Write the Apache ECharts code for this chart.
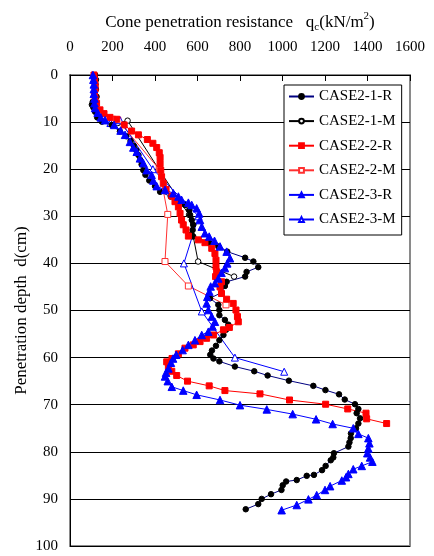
<!DOCTYPE html>
<html>
<head>
<meta charset="utf-8">
<script src="https://cdn.jsdelivr.net/npm/echarts@6/dist/echarts.min.js"></script>
<style>
  html, body { margin: 0; padding: 0; background: #fff; }
  #chart { width: 434px; height: 556px; }
</style>
</head>
<body>
<div id="chart"></div>
<script>
// [qc (kN/m2), depth (cm)]
const case21R = [
  [118, 0], [122, 1], [120, 2], [122, 3], [125, 4.6], [107, 5.7], [103, 6.3], [110, 6.9], [118, 7.8], [128, 9], [150, 9.9],
  [196, 10.6], [235, 12], [265, 13], [285, 14], [300, 15], [312, 16], [322, 17], [330, 18], [337, 19], [345, 20.2],
  [355, 21.2], [373, 22.4], [400, 23.6], [424, 24.8], [474, 25.8], [510, 26.5], [541, 27.6], [561, 28.7], [565, 29.7],
  [573, 30.8], [580, 31.8], [577, 32.9], [572, 33.8], [580, 34.3], [655, 35.6], [698, 36.4], [740, 37.5], [824, 38.8],
  [863, 39.6], [886, 40.8], [831, 41.8], [824, 42.8], [737, 43.9], [729, 44.8], [713, 46.2], [659, 47.4], [698, 48.8],
  [703, 49.9], [703, 51], [729, 52], [745, 53], [734, 54.1], [722, 55.2], [703, 56.3], [687, 57.5], [668, 58.5],
  [660, 59.4], [675, 60.2], [703, 60.8], [776, 61.9], [867, 62.9], [930, 63.8], [1030, 64.9], [1145, 66], [1202, 66.9],
  [1266, 67.8], [1293, 68.9], [1341, 69.9], [1357, 70.9], [1349, 71.8], [1365, 72.9], [1357, 74], [1346, 75],
  [1322, 76.1], [1321, 77.1], [1315, 78], [1310, 78.9], [1242, 80.3], [1239, 81.2], [1227, 81.8], [1203, 83],
  [1186, 83.9], [1148, 84.9], [1114, 85.1], [1067, 86], [1017, 86.3], [1001, 87.1], [995, 88.1], [946, 89],
  [902, 90], [886, 91.1], [827, 92.2]
];
const case21M = [[225, 10.2], [271, 9.7], [418, 20], [560, 29.7], [603, 39.6], [772, 42.8]];

const case22R = [
  [113, 0], [115, 1], [118, 2], [118, 3], [115, 4], [118, 5], [125, 6], [141, 7.4], [160, 8.2], [188, 9], [220, 9.4],
  [255, 10.6], [290, 11.9], [322, 12.7], [364, 13.7], [390, 14.5], [408, 15.4], [420, 16.5], [424, 17.5], [424, 18.8],
  [427, 20.2], [431, 21.6], [439, 23], [452, 24.3], [479, 25.7], [494, 26.9], [510, 28], [518, 29.4], [525, 30.8],
  [533, 31.8], [546, 32.9], [557, 34.2], [604, 35], [635, 35.6], [667, 36.8], [682, 37.9], [687, 39.3], [687, 40.7],
  [690, 41.8], [685, 42.8], [713, 43.9], [706, 45], [713, 46.4], [737, 47.6], [768, 48.5], [781, 49.9], [788, 51.3],
  [792, 52.4], [750, 53.6], [722, 54.1], [675, 55.2], [643, 55.9], [612, 56.6], [580, 57.3], [541, 58], [510, 59.2],
  [480, 60.2], [455, 60.9], [463, 61.9], [479, 62.9], [502, 63.8], [553, 65], [655, 66], [729, 67], [894, 67.7],
  [1033, 69], [1203, 69.9], [1307, 70.9], [1393, 71.8], [1396, 73], [1490, 74]
];
const case22M = [[200, 9.4], [225, 9.6], [420, 20], [460, 29.6], [447, 39.6], [557, 44.8], [734, 48.8]];

const case23R = [
  [108, 0], [110, 1], [112, 2], [112, 3], [112, 4], [115, 5], [115, 6], [118, 7], [130, 8], [145, 9], [165, 9.6],
  [208, 10.6], [238, 11.8], [259, 12.7], [282, 14.2], [298, 15.4], [314, 16.3], [329, 17.7], [345, 18.7], [361, 20.2],
  [384, 21.2], [392, 22.4], [408, 23.6], [447, 24.4], [486, 25.1], [510, 25.8], [525, 26.5], [557, 27.1], [573, 27.6],
  [596, 28.3], [608, 29.4], [612, 30.8], [620, 32.2], [635, 33.6], [655, 34.3], [680, 35.2], [706, 36.4], [737, 37.5],
  [753, 38.9], [740, 40], [729, 41], [713, 42], [698, 43.2], [682, 44.2], [662, 44.9], [656, 46], [646, 47.1],
  [643, 48.5], [651, 49.9], [667, 51.3], [682, 52.4], [671, 53.4], [651, 54.5], [620, 55.2], [588, 56.3], [557, 57.3],
  [530, 58.4], [500, 59.4], [485, 60.2], [475, 61.1], [463, 62.3], [452, 63.2], [447, 64], [460, 65], [479, 66.2],
  [533, 67], [596, 67.9], [706, 69], [800, 70.1], [926, 71], [1048, 72], [1158, 73.1], [1236, 74.1], [1333, 75],
  [1357, 76.2], [1404, 77.1], [1409, 78.2], [1404, 79.3], [1399, 80.3], [1412, 81.2], [1423, 82.1], [1373, 83],
  [1333, 83.7], [1310, 84.7], [1299, 85.4], [1279, 86.1], [1224, 87.3], [1200, 88.1], [1161, 89.2], [1122, 90.1],
  [1067, 91.3], [996, 92.4]
];
const case23M = [[190, 10.2], [235, 9.6], [390, 20], [605, 30], [536, 40], [620, 50.2], [776, 60], [1008, 63]];

const seriesNames = ['CASE2-1-R', 'CASE2-1-M', 'CASE2-2-R', 'CASE2-2-M', 'CASE2-3-R', 'CASE2-3-M'];
const xTicks = [0, 200, 400, 600, 800, 1000, 1200, 1400, 1600];
const yTicks = [0, 10, 20, 30, 40, 50, 60, 70, 80, 90, 100];

const serif = 'Liberation Serif, Times New Roman, serif';
const chart = echarts.init(document.getElementById('chart'));

function makeSeries(name, data, symbol, size, fill, border, line) {
  return {
    name: name,
    type: 'line',
    data: data,
    symbol: symbol,
    symbolSize: size,
    showAllSymbol: true,
    animation: false,
    itemStyle: { color: fill, borderColor: border, borderWidth: 1, opacity: 1 },
    lineStyle: { color: line, width: 1 }
  };
}

const option = {
  backgroundColor: '#fff',
  animation: false,
  textStyle: { fontFamily: serif, color: '#000' },
  grid: {
    left: 70, top: 75, width: 340, height: 471,
    outerBoundsMode: 'none',
    containLabel: false,
    show: true, borderColor: '#8a8a8a', borderWidth: 2, backgroundColor: 'transparent'
  },
  legend: {
    orient: 'vertical',
    left: 284, top: 85,
    data: seriesNames,
    backgroundColor: '#fff',
    borderColor: '#000', borderWidth: 1,
    padding: [4, 6, 8, 4],
    itemWidth: 25, itemHeight: 6, itemGap: 9.6,
    textStyle: { fontFamily: serif, fontSize: 15, color: '#000' }
  },
  xAxis: {
    type: 'value',
    position: 'top',
    min: xTicks[0], max: xTicks[xTicks.length - 1], interval: 200,
    name: 'Cone penetration resistance   q{sub|c}(kN/m{sup|2})',
    nameLocation: 'middle',
    nameGap: 41,
    nameTextStyle: {
      fontFamily: serif, fontSize: 17, color: '#000',
      rich: {
        sub: { fontFamily: serif, fontSize: 11, color: '#000', padding: [10, 0, 0, 0] },
        sup: { fontFamily: serif, fontSize: 11, color: '#000', padding: [0, 0, 12, 0] }
      }
    },
    axisLine: { show: true, lineStyle: { color: '#000', width: 1 } },
    axisTick: { show: true, inside: true, length: 6, lineStyle: { color: '#000' } },
    axisLabel: { fontFamily: serif, fontSize: 15, color: '#000', margin: 20, formatter: (v) => String(v) },
    splitLine: { show: false }
  },
  yAxis: {
    type: 'value',
    inverse: true,
    min: yTicks[0], max: yTicks[yTicks.length - 1], interval: 10,
    name: 'Penetration depth  d(cm)',
    nameLocation: 'middle',
    nameGap: 40,
    nameMoveOverlap: false,
    nameTextStyle: { fontFamily: serif, fontSize: 17, color: '#000' },
    axisLine: { show: true, lineStyle: { color: '#000', width: 1 } },
    axisTick: { show: true, inside: true, length: 8, lineStyle: { color: '#000' } },
    axisLabel: { fontFamily: serif, fontSize: 15, color: '#000', margin: 12, formatter: (v) => String(v) },
    splitLine: { show: true, lineStyle: { color: '#000', width: 1 } }
  },
  series: [
    makeSeries(seriesNames[1], case21M, 'circle', 5.5, '#fff', '#000', '#000'),
    makeSeries(seriesNames[3], case22M, 'rect', 6, '#fff', '#ff3030', '#ff3030'),
    makeSeries(seriesNames[5], case23M, 'triangle', 7, '#fff', '#0000ff', '#0000ff'),
    makeSeries(seriesNames[0], case21R, 'circle', 5.5, '#000', '#000', '#000080'),
    makeSeries(seriesNames[2], case22R, 'rect', 6, '#ff0000', '#ff0000', '#ff0000'),
    makeSeries(seriesNames[4], case23R, 'triangle', 7.5, '#0000ff', '#0000ff', '#0000ff')
  ]
};

chart.setOption(option);
</script>
</body>
</html>
